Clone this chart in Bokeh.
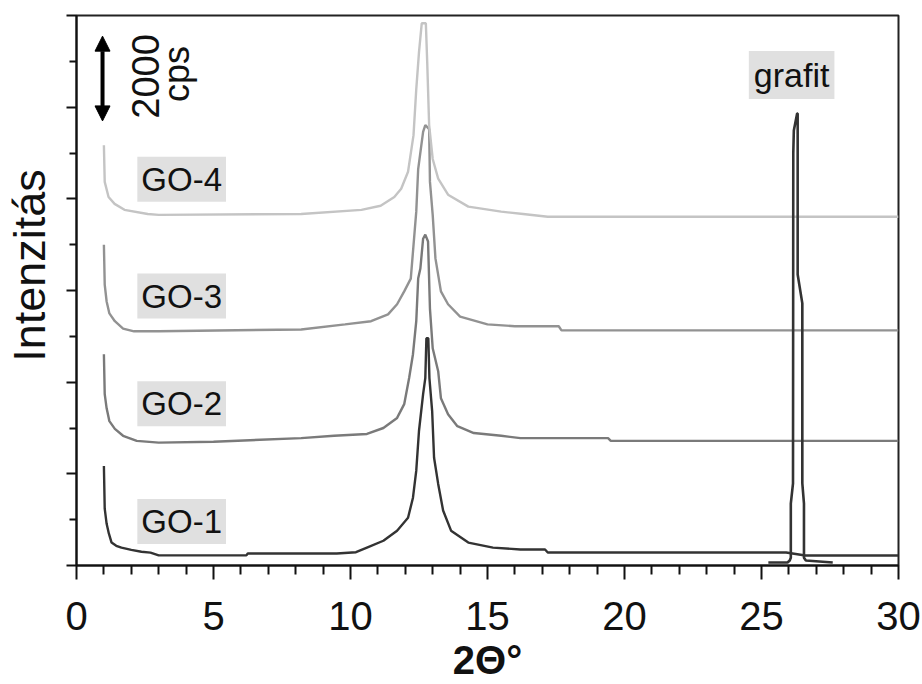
from math import pi
from bokeh.plotting import figure
from bokeh.models import (Range1d, FixedTicker, Label, Arrow, NormalHead,
                          CustomJSTickFormatter)
from bokeh.embed import file_html
from bokeh.resources import INLINE

# ---------------- data (2Theta in degrees, intensity in cps, offset stacked) -------------
go1_x = [1.00, 1.03, 1.10, 1.18, 1.28, 1.45, 1.64, 2.00, 2.37, 2.70,
         3.00, 4.50, 6.20, 6.25, 8.00, 9.50, 10.20, 10.60, 11.20, 11.70,
         12.10, 12.28, 12.40, 12.50, 12.65, 12.73, 12.77, 12.84, 12.88, 12.98,
         13.05, 13.20, 13.38, 13.67, 14.30, 15.20, 16.20, 17.10, 17.20, 21.00,
         25.90, 26.60, 30.00]
go1_y = [2170, 1240, 910, 700, 500, 430, 390, 340, 300, 280,
         220, 220, 220, 262, 262, 262, 290, 390, 540, 760,
         1040, 1480, 2070, 2940, 3740, 4090, 4960, 4960, 4090, 3370,
         2350, 1780, 1200, 760, 500, 390, 350, 350, 283, 283,
         283, 218, 218]

go2_x = [1.00, 1.03, 1.10, 1.20, 1.40, 1.70, 2.20, 3.00, 5.00, 8.20,
         9.40, 10.60, 11.20, 11.70, 11.96, 12.14, 12.28, 12.40, 12.47, 12.55,
         12.65, 12.73, 12.83, 12.90, 13.00, 13.20, 13.30, 13.56, 13.90, 14.50,
         15.50, 16.20, 19.40, 19.50, 30.00]
go2_y = [4610, 3740, 3430, 3150, 2980, 2830, 2720, 2680, 2700, 2780,
         2830, 2870, 3000, 3220, 3520, 4090, 4610, 5330, 6260, 6480,
         7130, 7220, 7070, 5600, 4740, 4240, 3650, 3300, 3040, 2890,
         2830, 2780, 2780, 2720, 2720]

go3_x = [1.00, 1.03, 1.10, 1.20, 1.40, 1.70, 2.10, 3.00, 8.20, 9.80,
         10.75, 11.37, 11.70, 11.96, 12.20, 12.40, 12.47, 12.65, 12.73, 12.87,
         12.90, 13.00, 13.10, 13.30, 13.56, 14.00, 15.00, 16.00, 17.60, 17.70,
         30.00]
go3_y = [7000, 6130, 5760, 5500, 5330, 5170, 5110, 5110, 5150, 5260,
         5330, 5480, 5700, 5980, 6260, 7720, 8650, 9460, 9610, 9520,
         8370, 7650, 6700, 5980, 5700, 5430, 5260, 5220, 5220, 5130,
         5130]

go4_x = [1.00, 1.03, 1.17, 1.39, 1.75, 2.60, 3.00, 8.20, 10.40, 11.10,
         11.60, 11.85, 12.10, 12.30, 12.40, 12.50, 12.60, 12.75, 12.80, 12.87,
         13.00, 13.20, 13.56, 14.30, 15.50, 16.30, 17.20, 30.00]
go4_y = [9170, 8370, 8040, 7890, 7760, 7670, 7650, 7670, 7760, 7850,
         8040, 8220, 8590, 9390, 10390, 11200, 11830, 11830, 10980, 9610,
         8870, 8440, 8090, 7830, 7720, 7670, 7610, 7610]

grafit_x = [25.25, 25.95, 26.03, 26.07, 26.07, 26.15, 26.16, 26.18, 26.30, 26.32,
            26.32, 26.49, 26.49, 26.55, 26.55, 26.62, 27.60]
grafit_y = [65, 65, 110, 170, 1350, 1790, 9000, 9490, 9860, 9860,
            6350, 5720, 1790, 1350, 170, 110, 65]

series_names = ["GO-1", "GO-2", "GO-3", "GO-4"]
series_label_y = [960, 3530, 5880, 8430]          # centre of each name box (cps)
series_colors = ["#333333", "#7a7a7a", "#929292", "#c4c4c4"]

x_major = [0, 5, 10, 15, 20, 25, 30]
x_minor = [v for v in range(0, 31) if v % 5 != 0]
y_major = [0, 2000, 4000, 6000, 8000, 10000, 12000]
y_minor = [1000, 3000, 5000, 7000, 9000, 11000]
scale_bar_cps = 2000

FONT = "Liberation Sans"

# ---------------- figure --------------------------------------------------------------
p = figure(width=922, height=684, output_backend="svg", toolbar_location=None,
           x_range=Range1d(0, 30), y_range=Range1d(0, 12000),
           min_border_left=75, min_border_right=24, min_border_top=15,
           min_border_bottom=119)
p.background_fill_color = "white"
p.border_fill_color = "white"
p.grid.visible = False
p.outline_line_color = "#222222"
p.outline_line_width = 2

for ax in (p.xaxis, p.yaxis):
    ax.axis_line_width = 2
    ax.axis_line_color = "#111111"
    ax.major_tick_line_width = 2
    ax.minor_tick_line_width = 2
    ax.major_tick_line_color = "#111111"
    ax.minor_tick_line_color = "#111111"
    ax.major_tick_in = 0
    ax.minor_tick_in = 0
    ax.axis_label_text_font = FONT
    ax.axis_label_text_color = "#111111"

p.xaxis.ticker = FixedTicker(ticks=x_major, minor_ticks=x_minor)
p.xaxis.major_tick_out = 14
p.xaxis.minor_tick_out = 9
p.xaxis.major_label_text_font = FONT
p.xaxis.major_label_text_font_size = "40px"
p.xaxis.major_label_text_color = "#111111"
p.xaxis.major_label_standoff = 22
p.xaxis.axis_label = "2Θ°"
p.xaxis.axis_label_text_font_size = "40px"
p.xaxis.axis_label_text_font_style = "bold"
p.xaxis.axis_label_standoff = 5

p.yaxis.ticker = FixedTicker(ticks=y_major, minor_ticks=y_minor)
p.yaxis.major_tick_out = 10
p.yaxis.minor_tick_out = 7
p.yaxis.formatter = CustomJSTickFormatter(code="return ''")
p.yaxis.axis_label = "\u00a0\u00a0\u00a0\u00a0Intenzitás"
p.yaxis.axis_label_text_font_size = "45px"
p.yaxis.axis_label_text_font_style = "normal"
p.yaxis.axis_label_standoff = 12

# curves
all_x = [go1_x, go2_x, go3_x, go4_x]
all_y = [go1_y, go2_y, go3_y, go4_y]
for xs, ys, c in zip(all_x, all_y, series_colors):
    p.line(xs, ys, line_color=c, line_width=2.4)
p.line(grafit_x, grafit_y, line_color="#333333", line_width=2.6)

# name boxes
for name, ly in zip(series_names, series_label_y):
    p.add_layout(Label(x=2.22, y=ly, text=name, text_font=FONT,
                       text_font_size="33px", text_color="#111111",
                       text_align="left", text_baseline="middle",
                       background_fill_color="#e0e0e0", padding=4))
p.add_layout(Label(x=26.1, y=10700, text="grafit", text_font=FONT,
                   text_font_size="34px", text_color="#111111",
                   text_align="center", text_baseline="middle",
                   background_fill_color="#e0e0e0", padding=5))

# scale bar
bar_lo = 9700
p.add_layout(Arrow(x_start=0.95, y_start=bar_lo, x_end=0.95, y_end=bar_lo + scale_bar_cps - 150,
                   line_width=4, line_color="black",
                   start=NormalHead(size=15, fill_color="black", line_color="black"),
                   end=NormalHead(size=15, fill_color="black", line_color="black")))
p.add_layout(Label(x=2.53, y=10670, text=str(scale_bar_cps), angle=pi / 2,
                   text_font=FONT, text_font_size="38px", text_color="#111111",
                   text_align="center", text_baseline="alphabetic"))
p.add_layout(Label(x=3.65, y=10725, text="cps", angle=pi / 2,
                   text_font=FONT, text_font_size="36px", text_color="#111111",
                   text_align="center", text_baseline="alphabetic"))

open("out.html", "w").write(file_html(p, INLINE))
